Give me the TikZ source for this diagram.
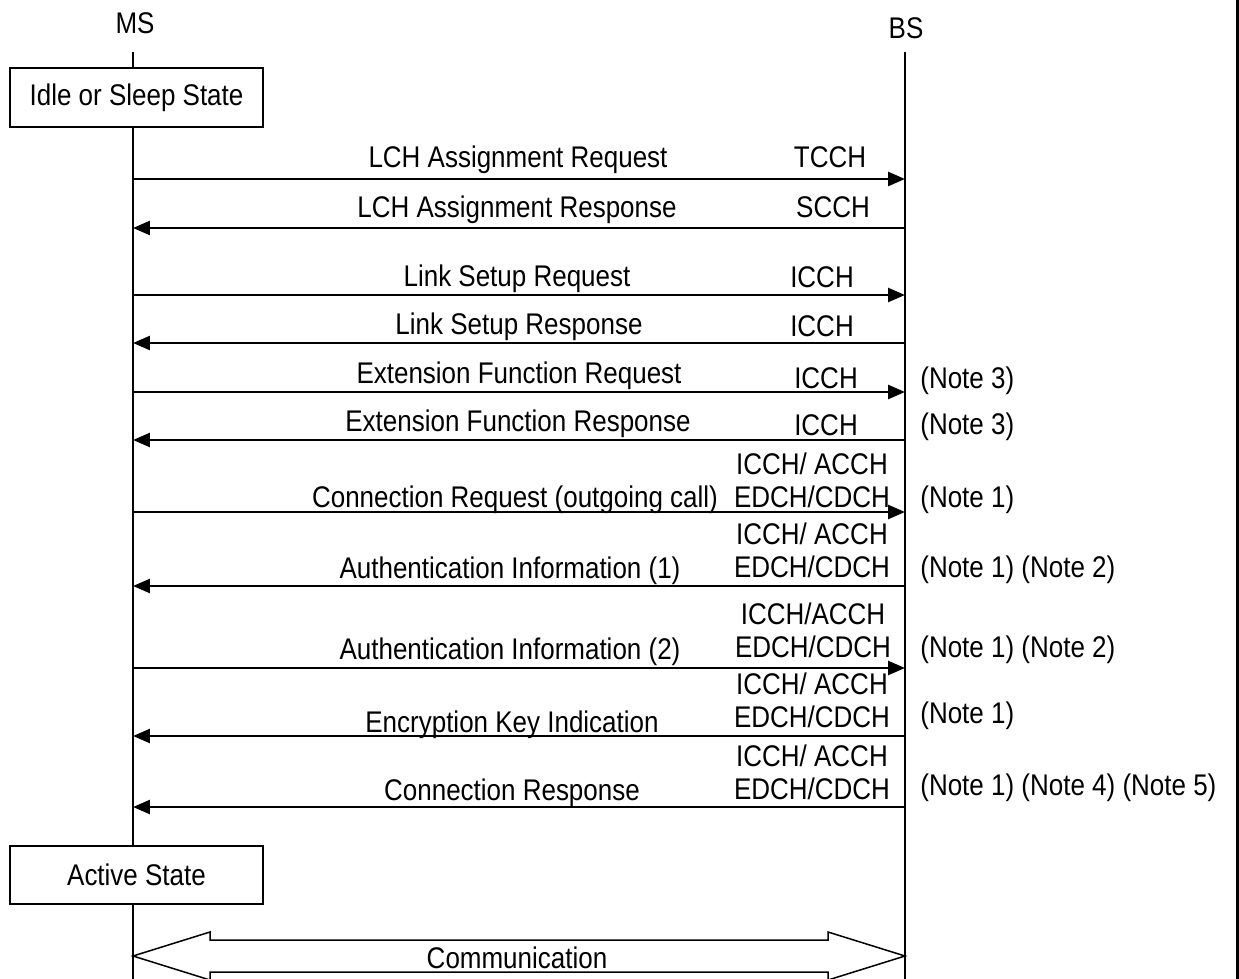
\documentclass[tikz,border=0pt]{standalone}
\usepackage{fontspec}
\setmainfont[FakeStretch=0.87]{Liberation Sans}
\usetikzlibrary{arrows.meta}

\begin{document}
\begin{tikzpicture}[x=0.02cm,y=-0.02cm,
  every node/.style={font=\fontsize{17}{18.5}\selectfont,inner sep=0pt},
  statebox/.style={draw,line width=0.04cm,fill=white,minimum width=5.06cm,minimum height=1.17cm},
  life/.style={line width=0.03cm},
  msg/.style={-{Triangle[length=0.34cm,width=0.28cm]},line width=0.05cm},
  lbl/.style={anchor=base},
  chan/.style={anchor=base,align=center},
  note/.style={anchor=base west}
]
  \useasboundingbox (0,0) rectangle (1239,979);
  \fill (1236,0) rectangle (1239,979);

  % lifelines
  \node[lbl] (ms) at (135,34) {MS};
  \node[lbl] (bs) at (906,39) {BS};
  \coordinate (mstop) at (133,52);
  \coordinate (msbot) at (133,979);
  \coordinate (bstop) at (905,52);
  \coordinate (bsbot) at (905,979);
  \draw[life] (mstop) -- (msbot);
  \draw[life] (bstop) -- (bsbot);

  \node[statebox] (idle) at (136.5,97.5) {Idle or Sleep State};
  \node[statebox] (active) at (136.5,875) {Active State};

  \foreach \i/\y in {1/179,2/228,3/295,4/343,5/392,6/440,7/512,8/586,9/668,10/736,11/807}{
    \coordinate (m\i) at (133,\y);
    \coordinate (b\i) at (905,\y);
  }

  % messages
  \draw[msg] (m1) -- (b1);
  \draw[msg] (b2) -- (m2);
  \draw[msg] (m3) -- (b3);
  \draw[msg] (b4) -- (m4);
  \draw[msg] (m5) -- (b5);
  \draw[msg] (b6) -- (m6);
  \draw[msg] (m7) -- (b7);
  \draw[msg] (b8) -- (m8);
  \draw[msg] (m9) -- (b9);
  \draw[msg] (b10) -- (m10);
  \draw[msg] (b11) -- (m11);

  \node[lbl] (t1) at (518,168) {LCH Assignment Request};
  \node[lbl] (t2) at (517,218) {LCH Assignment Response};
  \node[lbl] (t3) at (517,287) {Link Setup Request};
  \node[lbl] (t4) at (519,335) {Link Setup Response};
  \node[lbl] (t5) at (519,383) {Extension Function Request};
  \node[lbl] (t6) at (518,431) {Extension Function Response};
  \node[lbl] (t7) at (515,507) {Connection Request (outgoing call)};
  \node[lbl] (t8) at (510,578) {Authentication Information (1)};
  \node[lbl] (t9) at (510,659) {Authentication Information (2)};
  \node[lbl] (t10) at (512,732) {Encryption Key Indication};
  \node[lbl] (t11) at (512,800) {Connection Response};

  % channels
  \node[lbl] (c1) at (830,168) {TCCH};
  \node[lbl] (c2) at (833,218) {SCCH};
  \node[lbl] (c3) at (822,288) {ICCH};
  \node[lbl] (c4) at (822,337) {ICCH};
  \node[lbl] (c5) at (826,388) {ICCH};
  \node[lbl] (c6) at (826,435) {ICCH};
  \node[chan] (c7) at (812,507) {ICCH/ ACCH\\EDCH/CDCH};
  \node[chan] (c8) at (812,577) {ICCH/ ACCH\\EDCH/CDCH};
  \node[chan] (c9) at (813,657) {ICCH/ACCH\\EDCH/CDCH};
  \node[chan] (c10) at (812,727) {ICCH/ ACCH\\EDCH/CDCH};
  \node[chan] (c11) at (812,799) {ICCH/ ACCH\\EDCH/CDCH};

  % notes
  \node[note] (n5) at (920,388) {(Note 3)};
  \node[note] (n6) at (920,434) {(Note 3)};
  \node[note] (n7) at (920,507) {(Note 1)};
  \node[note] (n8) at (920,577) {(Note 1) (Note 2)};
  \node[note] (n9) at (920,657) {(Note 1) (Note 2)};
  \node[note] (n10) at (920,723) {(Note 1)};
  \node[note] (n11) at (920,795) {(Note 1) (Note 4) (Note 5)};

  % communication
  \coordinate (comL) at (133,956);
  \coordinate (comR) at (905,956);
  \draw[life,fill=white] (comL) -- ++(77,-24) -- ++(0,8) -- ++(618,0) -- ++(0,-8) -- (comR)
    -- ++(-77,24) -- ++(0,-8) -- ++(-618,0) -- ++(0,8) -- cycle;
  \node[lbl] (com) at (517,968) {Communication};
\end{tikzpicture}
\end{document}
